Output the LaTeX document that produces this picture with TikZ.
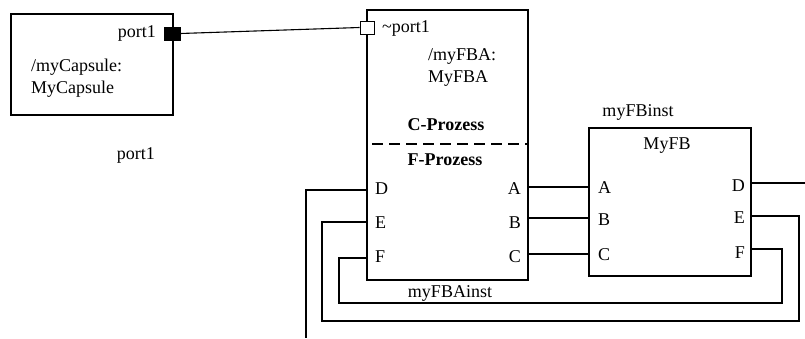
\documentclass[tikz,border=0pt]{standalone}
\usepackage{fontspec}
\setmainfont{Liberation Serif}
\begin{document}
\begin{tikzpicture}[x=1pt,y=-1pt,
  box/.style={draw,line width=1.4pt,rectangle,inner sep=0pt},
  wire/.style={draw,line width=1.1pt},
  lbl/.style={inner sep=0pt,font=\fontsize{18}{22}\selectfont},
  lbll/.style={lbl,anchor=west},
  lblr/.style={lbl,anchor=east}]
\path[use as bounding box] (0,0) rectangle (805,338);
% boxes
\node[box,minimum width=162pt,minimum height=101pt] (cap) at (92,64.5) {};
\node[box,minimum width=161pt,minimum height=270pt] (fba) at (447.5,145) {};
\node[box,minimum width=162pt,minimum height=148pt] (fb) at (670,202) {};
% ports
\node[draw,fill=black,line width=0.8pt,minimum width=16pt,minimum height=13pt,inner sep=0pt] (p1) at (172,33.5) {};
\node[draw,fill=white,line width=0.9pt,minimum width=14pt,minimum height=13pt,inner sep=0pt] (p2) at (367,27.5) {};
\draw[wire] (p1.east) -- (p2.west);
% capsule texts
\node[lblr] (tport1) at (156,33) {port1};
\node[lbll,align=left] (tcap) at (31,78) {/myCapsule:\\MyCapsule};
\node[lblr] (tport1b) at (155,155) {port1};
% FBA texts
\node[lbll] (tnport) at (382,28) {\char`\~port1};
\node[lbll,align=left] (tfba) at (428,67) {/myFBA:\\MyFBA};
\node[lbl,font=\fontsize{18}{22}\selectfont\bfseries] (tcp) at (446,125) {C-Prozess};
\node[lbl,font=\fontsize{18}{22}\selectfont\bfseries] (tfp) at (445,160) {F-Prozess};
\coordinate (dl) at (372,144);
\coordinate (dr) at (528,144);
\draw[line width=1.4pt,dash pattern=on 11pt off 6pt] (dl) -- (dr);
\node[lbll] (fD) at (375,189) {D};
\node[lbll] (fE) at (375,223) {E};
\node[lbll] (fF) at (375,257) {F};
\node[lblr] (fA) at (521,189) {A};
\node[lblr] (fB) at (521,223) {B};
\node[lblr] (fC) at (521,257) {C};
\node[lbl] (tfbainst) at (450,293) {myFBAinst};
% FB texts
\node[lbl] (tfbinst) at (638,112) {myFBinst};
\node[lbl] (tmyfb) at (667,146) {MyFB};
\node[lbll] (gA) at (598,188) {A};
\node[lbll] (gB) at (598,220) {B};
\node[lbll] (gC) at (598,255) {C};
\node[lblr] (gD) at (745,186) {D};
\node[lblr] (gE) at (745,218) {E};
\node[lblr] (gF) at (745,253) {F};
% wire endpoints
\coordinate (fbaA) at (528,187);
\coordinate (fbaB) at (528,218);
\coordinate (fbaC) at (528,254);
\coordinate (fbA) at (589,187);
\coordinate (fbB) at (589,218);
\coordinate (fbC) at (589,254);
\coordinate (fbaD) at (367,190);
\coordinate (fbaE) at (367,222);
\coordinate (fbaF) at (367,258);
\coordinate (fbD) at (751,183);
\coordinate (fbE) at (751,216);
\coordinate (fbF) at (751,249);
\coordinate (dEnd) at (306,338);
\coordinate (fbDEnd) at (805,183);
\draw[wire] (fbaA) -- (fbA);
\draw[wire] (fbaB) -- (fbB);
\draw[wire] (fbaC) -- (fbC);
\draw[wire] (fbaD) -| (dEnd);
\draw[wire] (fbaE) -- (322,222) -- (322,321) -- (799,321) -- (799,216) -- (fbE);
\draw[wire] (fbaF) -- (339,258) -- (339,303) -- (782,303) -- (782,249) -- (fbF);
\draw[wire] (fbD) -- (fbDEnd);
\end{tikzpicture}
\end{document}
